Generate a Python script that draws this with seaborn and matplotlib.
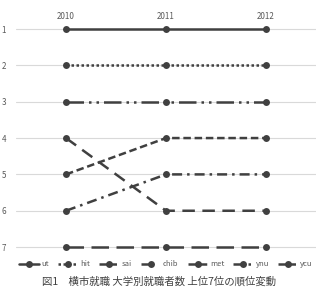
import matplotlib
matplotlib.use("Agg")
import matplotlib.pyplot as plt
import seaborn as sns
import pandas as pd

years = [2010, 2011, 2012]
series = ["ut", "hit", "sai", "chib", "met", "ynu", "ycu"]
ranks = {
    "ut":   [1, 1, 1],
    "hit":  [2, 2, 2],
    "sai":  [3, 3, 3],
    "chib": [4, 6, 6],
    "met":  [5, 4, 4],
    "ynu":  [6, 5, 5],
    "ycu":  [7, 7, 7],
}
caption = "図1　横市就職 大学別就職者数 上位7位の順位変動"

rows = []
for s in series:
    for y, r in zip(years, ranks[s]):
        rows.append({"year": y, "rank": r, "school": s})
df = pd.DataFrame(rows)

sns.set_theme(style="white")
plt.rcParams["font.family"] = ["Noto Sans CJK JP", "DejaVu Sans"]

fig = plt.figure(figsize=(3.18, 2.88), dpi=100)
ax = fig.add_axes([16/318, 1-262/288, 300/318, (262-22)/288])

col = "#404040"
dashes = {
    "ut": "",
    "hit": (1, 1),
    "sai": (7, 2, 1, 2, 1, 2),
    "chib": (5, 3),
    "met": (3, 1.5),
    "ynu": (4, 2, 1, 2),
    "ycu": (7, 3),
}
sns.lineplot(data=df, x="year", y="rank", hue="school", style="school",
             hue_order=series, style_order=series,
             palette=[col]*7, dashes=dashes, markers={s: "o" for s in series},
             markersize=5, markeredgewidth=0, linewidth=1.8, ax=ax, legend=True)

ax.set_xlim(2009.5, 2012.5)
ax.set_ylim(7.41, 0.807)
ax.set_xticks(years)
ax.set_xticklabels([str(y) for y in years])
ax.xaxis.tick_top()
ax.set_yticks(range(1, 8))
ax.tick_params(axis="both", length=0, labelsize=5.8, labelcolor="#595959")
ax.tick_params(axis="x", pad=1)
ax.tick_params(axis="y", pad=7)
ax.set_xlabel("")
ax.set_ylabel("")
ax.yaxis.grid(True, color="#d9d9d9", linewidth=0.8)
ax.xaxis.grid(False)
for sp in ax.spines.values():
    sp.set_visible(False)

handles, labels = ax.get_legend_handles_labels()
ax.legend(handles, labels, loc="center", bbox_to_anchor=(0.5, -0.01),
          ncol=7, frameon=False, fontsize=5.5, handlelength=2.6,
          handletextpad=0.3, columnspacing=1.2, labelcolor="#595959")

fig.text(0.5, 1-281.5/288, caption, ha="center", va="center", fontsize=7.5, color="#404040")

fig.savefig("out.png", dpi=100)
